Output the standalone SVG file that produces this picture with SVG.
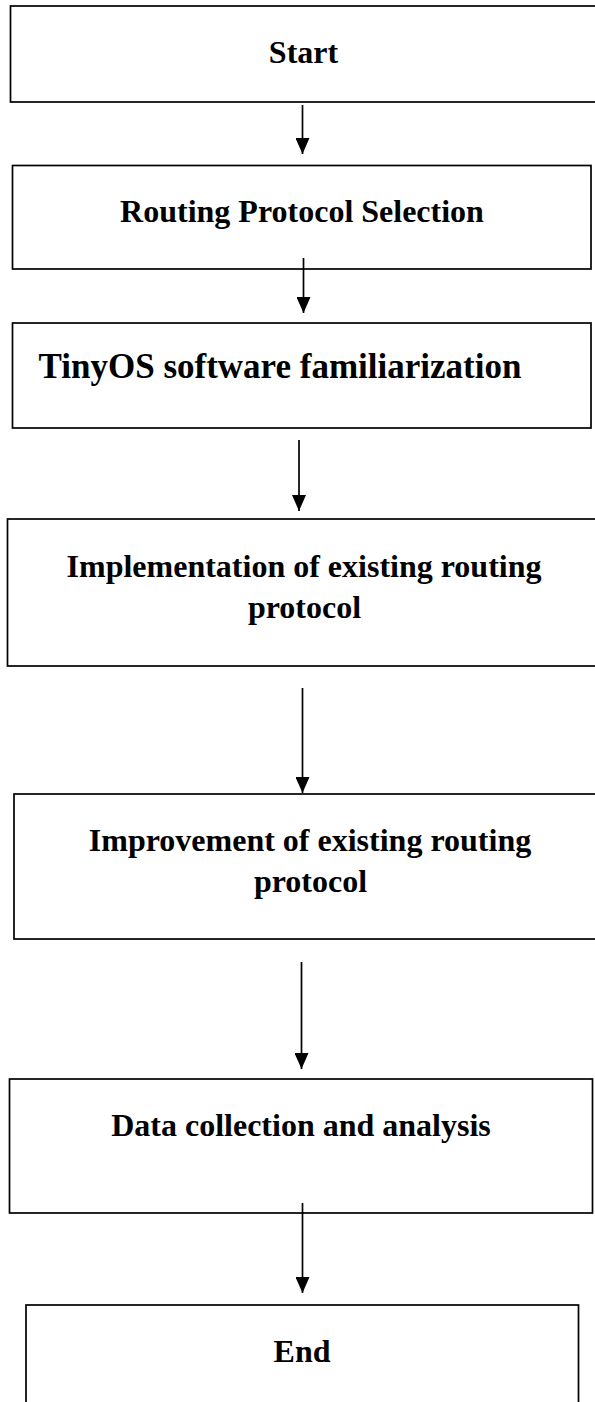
<svg xmlns="http://www.w3.org/2000/svg" width="595" height="1402" viewBox="0 0 595 1402">
<style>
.box{fill:#fff;stroke:#000;stroke-width:1.7}
.t{font-family:"Liberation Serif","Times New Roman",serif;font-weight:bold;font-size:32px;fill:#000;text-anchor:middle}
.c{stroke:#000;stroke-width:1.7;fill:none;marker-end:url(#ah)}
</style>
<defs>
<marker id="ah" viewBox="0 0 16 14" refX="16" refY="7" markerWidth="16" markerHeight="14" markerUnits="userSpaceOnUse" orient="auto">
<path d="M0,0 L16,7 L0,14 z" fill="#000"/>
</marker>
</defs>
<rect width="595" height="1402" fill="#fff"/>
<g id="n1"><rect class="box" x="10.5" y="6" width="590" height="96"/><text class="t" x="303.5" y="63">Start</text></g>
<g id="n2"><rect class="box" x="12.5" y="165.5" width="578.5" height="103.5"/><text class="t" x="302" y="222">Routing Protocol Selection</text></g>
<g id="n3"><rect class="box" x="12.5" y="323" width="578.5" height="105"/><text class="t" x="280" y="378" style="font-size:35px">TinyOS software familiarization</text></g>
<g id="n4"><rect class="box" x="7.5" y="519" width="595" height="147"/><text class="t" x="304" y="576.5">Implementation of existing routing</text><text class="t" x="304.5" y="618">protocol</text></g>
<g id="n5"><rect class="box" x="14" y="794" width="590" height="145"/><text class="t" x="310" y="850.5">Improvement of existing routing</text><text class="t" x="310.5" y="891.5">protocol</text></g>
<g id="n6"><rect class="box" x="9.5" y="1079" width="583" height="134"/><text class="t" x="301" y="1136">Data collection and analysis</text></g>
<g id="n7"><rect class="box" x="26" y="1305" width="552.5" height="110"/><text class="t" x="302" y="1361.5">End</text></g>
<g id="connectors">
<line class="c" x1="302.5" y1="105" x2="302.5" y2="154"/>
<line class="c" x1="303.5" y1="258" x2="303.5" y2="313"/>
<line class="c" x1="299" y1="440" x2="299" y2="511"/>
<line class="c" x1="302.5" y1="688" x2="302.5" y2="793"/>
<line class="c" x1="301.5" y1="962" x2="301.5" y2="1069"/>
<line class="c" x1="302.5" y1="1203" x2="302.5" y2="1293"/>
</g>
</svg>
